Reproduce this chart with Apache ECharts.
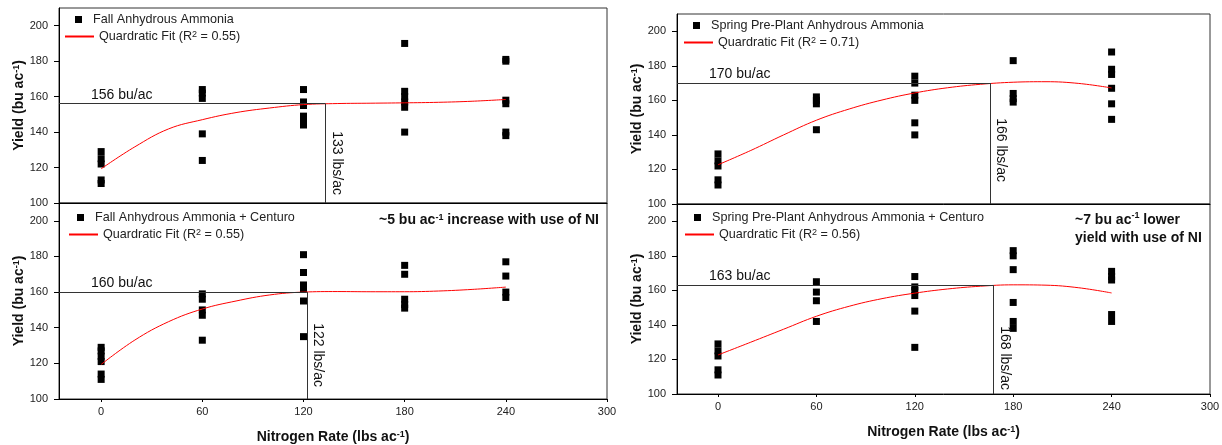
<!DOCTYPE html>
<html>
<head>
<meta charset="utf-8">
<script src="https://cdn.jsdelivr.net/npm/echarts@6/dist/echarts.min.js"></script>
<style>
  html, body { margin: 0; padding: 0; background: #fff; }
  #chart { width: 1222px; height: 445px; }
</style>
</head>
<body>
<div id="chart"></div>
<script>
// nitrogen rates (lbs/ac) where yields were measured
const rates = [0, 60, 120, 180, 240];
// yields (bu/ac) per rate, one array per rate
const fallAA = [[129, 125, 122, 113, 111], [164, 162, 159, 139, 124], [164, 157, 155, 149, 146, 144], [190, 163, 160, 157, 154, 140], [181, 180, 158, 156, 140, 138]];
const fallAACenturo = [[129, 127, 124, 121, 114, 111], [159, 156, 150, 147, 133], [181, 171, 164, 162, 155, 135], [175, 170, 156, 153, 151], [177, 169, 160, 157]];
const springAA = [[129, 125, 122, 114, 111], [162, 160, 158, 143], [174, 170, 163, 160, 147, 140], [183, 164, 161, 159], [188, 178, 175, 167, 158, 149]];
const springAACenturo = [[129, 125, 122, 114, 111], [165, 159, 154, 142], [168, 162, 160, 157, 148, 127], [183, 180, 172, 153, 142, 138], [171, 168, 166, 146, 142]];

// quadratic fit curves
const fitRates = [0, 20, 40, 60, 80, 100, 120, 140, 160, 180, 200, 220, 240];
const fitFallAA = [119.3, 131.7, 141.8, 147, 151, 153.6, 155.5, 156.1, 156.3, 156.5, 156.8, 157.4, 158.4];
const fitFallAACenturo = [119.4, 133.1, 143.4, 150.5, 155, 158.4, 160, 160.3, 160.2, 160.2, 160.6, 161.5, 162.8];
const fitSpringAA = [122.7, 131, 140, 148.5, 155, 160.2, 164.3, 167.3, 169.3, 170.5, 170.8, 169.8, 167.2];
const fitSpringAACenturo = [122.6, 130, 137.5, 145, 150.8, 155.2, 158.4, 160.8, 162.4, 163.2, 163, 161.5, 158.5];

const seriesNames = ['Fall Anhydrous Ammonia', 'Fall Anhydrous Ammonia + Centuro', 'Spring Pre-Plant Anhydrous Ammonia', 'Spring Pre-Plant Anhydrous Ammonia + Centuro'];
const r2 = ['0.55', '0.55', '0.71', '0.56'];
const optYield = [156, 160, 170, 163];   // bu/ac
const optRate = [133, 122, 166, 168];    // lbs/ac

const xTicks = [0, 60, 120, 180, 240, 300];
const yTicks = [100, 120, 140, 160, 180, 200];

const panelData = [fallAA, fallAACenturo, springAA, springAACenturo];
const panelFits = [fitFallAA, fitFallAACenturo, fitSpringAA, fitSpringAACenturo];

const font = 'Liberation Sans, Arial, sans-serif';
const supStyle = { fontSize: 9, verticalAlign: 'top', fontFamily: font };
const supBold = { fontSize: 9, fontWeight: 'bold', verticalAlign: 'top', fontFamily: font };

const grids = [
    { left: 59, top: 8, width: 548, height: 195 },
    { left: 59, top: 203, width: 548, height: 196 },
    { left: 677, top: 14, width: 533, height: 190 },
    { left: 677, top: 204, width: 533, height: 190 }
];

// positions of legend rows per panel
const legendPos = [
    { sq: [75, 13], ln: [64, 30] },
    { sq: [77, 211], ln: [68, 228] },
    { sq: [693, 19], ln: [683, 36] },
    { sq: [694, 211], ln: [684, 228] }
];
const vLabelPad = [8, 12, 22, 4];

const chart = echarts.init(document.getElementById('chart'));

const xAxes = grids.map((g, i) => {
    const bottom = i % 2 === 1;
    return {
        type: 'value', gridIndex: i, min: -25, max: 300,
        name: bottom ? 'Nitrogen Rate (lbs ac{sup|-1})' : '',
        nameLocation: 'middle', nameGap: 31,
        nameTextStyle: { fontSize: 14, fontWeight: 'bold', color: '#111', fontFamily: font, rich: { sup: supBold } },
        axisLine: { onZero: false, lineStyle: { color: '#000', width: 1 } },
        axisTick: { show: bottom, inside: false, length: 3, customValues: xTicks, lineStyle: { color: '#000' } },
        axisLabel: { show: bottom, customValues: xTicks, margin: 7, fontSize: 11, color: '#222', fontFamily: font },
        splitLine: { show: false }
    };
});

const yAxes = grids.map((g, i) => ({
    type: 'value', gridIndex: i, min: 100, max: 210,
    name: 'Yield (bu ac{sup|-1})',
    nameLocation: 'middle', nameGap: i < 2 ? 29 : 27,
    nameTextStyle: { fontSize: 14, fontWeight: 'bold', color: '#111', fontFamily: font, rich: { sup: supBold } },
    axisLine: { onZero: false, lineStyle: { color: '#000', width: 1 } },
    axisTick: { show: true, length: 5, customValues: yTicks, lineStyle: { color: '#000' } },
    axisLabel: { customValues: yTicks, margin: 11, fontSize: 11, color: '#222', fontFamily: font },
    splitLine: { show: false }
}));

const series = [];
panelData.forEach((vals, i) => {
    const pts = [];
    vals.forEach((arr, j) => arr.forEach(v => pts.push([rates[j], v])));
    series.push({
        name: seriesNames[i], type: 'scatter', xAxisIndex: i, yAxisIndex: i,
        symbol: 'rect', symbolSize: 7, itemStyle: { color: '#000', opacity: 1 }, data: pts
    });
    series.push({
        name: 'fit' + i, type: 'line', xAxisIndex: i, yAxisIndex: i,
        smooth: 0.4, symbol: 'none', lineStyle: { color: '#ff0000', width: 1 },
        itemStyle: { color: '#ff0000' },
        data: fitRates.map((x, k) => [x, panelFits[i][k]]),
        markLine: {
            silent: true, symbol: ['none', 'none'], animation: false,
            lineStyle: { color: '#333', width: 1, type: 'solid' },
            data: [
                [{ coord: [-25, optYield[i]], label: { formatter: optYield[i] + ' bu/ac', position: 'insideStartTop', distance: [32, 2] } },
                 { coord: [optRate[i], optYield[i]] }],
                [{ coord: [optRate[i], optYield[i]], label: { formatter: optRate[i] + ' lbs/ac', position: 'insideEndTop', distance: [vLabelPad[i], 4] } },
                 { coord: [optRate[i], 100] }]
            ],
            label: { fontSize: 14, color: '#111', fontFamily: font }
        }
    });
});

const legends = [];
legendPos.forEach((p, i) => {
    legends.push({
        data: [seriesNames[i]], left: p.sq[0], top: p.sq[1], orient: 'vertical', padding: 0,
        itemWidth: 7, itemHeight: 7, selectedMode: false,
        textStyle: { fontSize: 12.6, color: '#222', fontFamily: font, padding: [0, 0, 0, 6] }
    });
    legends.push({
        data: ['fit' + i], left: p.ln[0], top: p.ln[1], orient: 'vertical', padding: 0,
        itemWidth: 29, itemHeight: 10, selectedMode: false,
        itemStyle: { opacity: 0 },
        formatter: () => 'Quardratic Fit (R{sup|2} = ' + r2[i] + ')',
        textStyle: { fontSize: 12.6, color: '#222', fontFamily: font, rich: { sup: supStyle } }
    });
});

const option = {
    animation: false,
    textStyle: { fontFamily: font },
    grid: grids.map(g => Object.assign({
        show: true, borderColor: '#333', borderWidth: 1, backgroundColor: 'transparent',
        containLabel: false, outerBoundsMode: 'none'
    }, g)),
    title: [
        {
            text: '~5 bu ac{sup|-1} increase with use of NI', right: 623, top: 213, padding: 0,
            textStyle: { fontSize: 14, fontWeight: 'bold', color: '#111', fontFamily: font, rich: { sup: supBold } }
        },
        {
            text: '~7 bu ac{sup|-1} lower\nyield with use of NI', left: 1075, top: 211, padding: 0,
            textStyle: { fontSize: 14, fontWeight: 'bold', color: '#111', lineHeight: 18, fontFamily: font, rich: { sup: supBold } }
        }
    ],
    legend: legends,
    xAxis: xAxes,
    yAxis: yAxes,
    series: series
};

chart.setOption(option);
</script>
</body>
</html>
